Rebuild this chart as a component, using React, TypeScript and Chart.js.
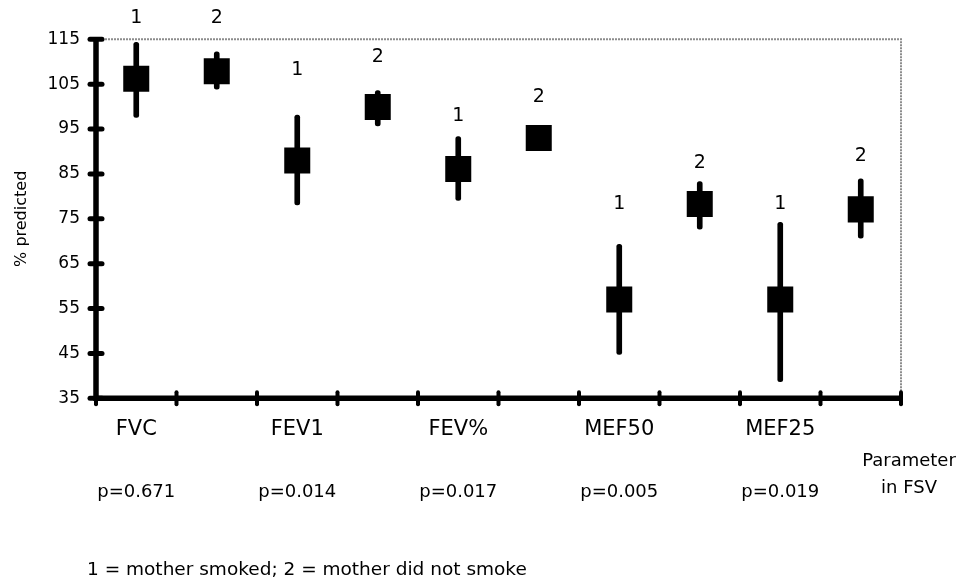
import React, { useEffect, useRef } from "react";
import { Chart, registerables } from "chart.js";

Chart.register(...registerables);

const FONT = "'DejaVu Sans', 'Liberation Sans', Arial, sans-serif";

const categories = ["FVC", "", "FEV1", "", "FEV%", "", "MEF50", "", "MEF25", ""];
const groupLabels = ["1", "2", "1", "2", "1", "2", "1", "2", "1", "2"];
const means = [106.2, 107.9, 88.0, 99.9, 86.1, 93.0, 57.0, 78.3, 57.0, 77.1];
const lows = [97.6, 103.9, 78.1, 95.7, 79.1, 91.0, 44.8, 72.7, 38.7, 70.7];
const highs = [114.3, 112.2, 98.1, 103.6, 93.3, 95.0, 69.3, 83.3, 74.2, 83.9];
const labelYs = [119.7, 119.7, 108.2, 111.1, 97.8, 102.2, 78.2, 87.4, 78.2, 88.9];
const pValues = ["p=0.671", "", "p=0.014", "", "p=0.017", "", "p=0.005", "", "p=0.019", ""];
const yMin = 35;
const yMax = 115;
const yStep = 10;
const yTitle = "% predicted";
const axisNote = ["Parameter", "in FSV"];
const footnote = "1 = mother smoked; 2 = mother did not smoke";

export default function App() {
  const ref = useRef<HTMLCanvasElement>(null);

  useEffect(() => {
    const annot = {
      id: "annot",
      beforeDatasetsDraw(chart: any) {
        const { ctx, chartArea: a, scales } = chart;
        const x = scales.x;
        const y = scales.y;
        ctx.save();
        // gray frame (top & right)
        ctx.strokeStyle = "#8c8c8c";
        ctx.lineWidth = 2;
        ctx.setLineDash([2, 1]);
        ctx.beginPath();
        ctx.moveTo(a.left, a.top);
        ctx.lineTo(a.right, a.top);
        ctx.lineTo(a.right, a.bottom);
        ctx.stroke();
        ctx.setLineDash([]);
        // black axes
        ctx.strokeStyle = "#000";
        ctx.lineWidth = 5.5;
        ctx.beginPath();
        ctx.moveTo(a.left, a.top);
        ctx.lineTo(a.left, a.bottom);
        ctx.lineTo(a.right, a.bottom);
        ctx.stroke();
        // y ticks crossing axis
        ctx.lineCap = "round";
        ctx.lineWidth = 5;
        y.ticks.forEach((t: any) => {
          const py = y.getPixelForValue(t.value);
          ctx.beginPath();
          ctx.moveTo(a.left - 6, py);
          ctx.lineTo(a.left + 6, py);
          ctx.stroke();
        });
        // x ticks at category boundaries
        const step = x.getPixelForValue(1) - x.getPixelForValue(0);
        ctx.lineWidth = 4;
        for (let i = 0; i <= categories.length; i++) {
          const px = x.getPixelForValue(0) - step / 2 + i * step;
          ctx.beginPath();
          ctx.moveTo(px, a.bottom - 6);
          ctx.lineTo(px, a.bottom + 6);
          ctx.stroke();
        }
        ctx.restore();
      },
      afterDatasetsDraw(chart: any) {
        const { ctx, chartArea: a, scales } = chart;
        const x = scales.x;
        const y = scales.y;
        ctx.save();
        ctx.fillStyle = "#000";
        ctx.textAlign = "center";
        ctx.textBaseline = "middle";
        ctx.font = `19px ${FONT}`;
        groupLabels.forEach((l, i) => {
          ctx.fillText(l, x.getPixelForValue(i), y.getPixelForValue(labelYs[i]));
        });
        ctx.font = `18px ${FONT}`;
        pValues.forEach((p, i) => {
          if (p) ctx.fillText(p, x.getPixelForValue(i), a.bottom + 94);
        });
        ctx.fillText(axisNote[0], a.right + 8, a.bottom + 63);
        ctx.fillText(axisNote[1], a.right + 8, a.bottom + 90);
        ctx.textAlign = "left";
        ctx.font = `18.5px ${FONT}`;
        ctx.fillText(footnote, 87, a.bottom + 172);
        ctx.restore();
      },
    };

    const chart = new Chart(ref.current as HTMLCanvasElement, {
      type: "bar",
      data: {
        labels: categories,
        datasets: [
          {
            type: "bar",
            data: lows.map((l, i) => [l, highs[i]]) as any,
            backgroundColor: "#000",
            barThickness: 5,
            borderRadius: 3,
            borderSkipped: false,
            order: 2,
          } as any,
          {
            type: "line",
            data: means,
            showLine: false,
            pointStyle: "rect",
            pointRadius: 18.4,
            pointHoverRadius: 18.4,
            pointBackgroundColor: "#000",
            pointBorderWidth: 0,
            order: 1,
          } as any,
        ],
      },
      options: {
        animation: false,
        responsive: true,
        maintainAspectRatio: false,
        events: [],
        layout: { padding: { top: 39.3, right: 64, left: 0, bottom: 0 } },
        plugins: {
          legend: { display: false },
          tooltip: { enabled: false },
        },
        scales: {
          x: {
            type: "category",
            offset: true,
            grid: {
              display: true,
              drawOnChartArea: false,
              drawTicks: true,
              tickLength: 8,
              color: "transparent",
            },
            border: { display: false },
            ticks: {
              color: "#000",
              font: { family: FONT, size: 21 },
              padding: 11,
              autoSkip: false,
              maxRotation: 0,
            },
            afterFit: (s: any) => {
              s.height = 184.7;
            },
          },
          y: {
            min: yMin,
            max: yMax,
            ticks: {
              stepSize: yStep,
              color: "#000",
              font: { family: FONT, size: 17 },
              padding: 8,
            },
            grid: {
              display: true,
              drawOnChartArea: false,
              drawTicks: true,
              tickLength: 8,
              color: "transparent",
            },
            border: { display: false },
            title: {
              display: true,
              text: yTitle,
              color: "#000",
              font: { family: FONT, size: 16 },
              padding: { top: 12, bottom: 0 },
            },
            afterFit: (s: any) => {
              s.width = 96;
            },
          },
        } as any,
      },
      plugins: [annot],
    });
    return () => chart.destroy();
  }, []);

  return (
    <div style={{ position: "fixed", left: 0, top: 0, width: 965, height: 583, background: "#fff" }}>
      <canvas ref={ref} />
    </div>
  );
}
